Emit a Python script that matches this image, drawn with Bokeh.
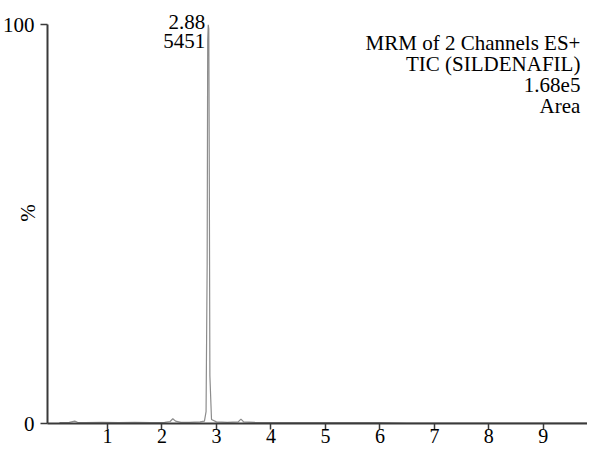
from bokeh.plotting import figure
from bokeh.models import ColumnDataSource, FixedTicker, Range1d
from bokeh.core.properties import value
from bokeh.embed import file_html
from bokeh.resources import INLINE

# retention time (min) and relative intensity (%)
times = [0.12, 0.30, 0.40, 0.45, 0.60, 0.90, 1.20, 1.50, 1.80, 2.05, 2.15, 2.20, 2.25, 2.35,
         2.50, 2.70, 2.78, 2.81, 2.83, 2.84, 2.85, 2.86, 2.87, 2.88, 2.91, 3.00, 3.20,
         3.40, 3.45, 3.50, 3.70, 4.00, 4.50, 5.00, 5.50, 6.00, 6.50, 7.00, 7.50, 8.00,
         8.50, 9.00, 9.50, 9.80]
intensity = [0.2, 0.3, 0.6, 0.3, 0.2, 0.3, 0.2, 0.3, 0.2, 0.3, 0.5, 1.2, 0.6, 0.3,
             0.3, 0.4, 0.6, 3.0, 40.0, 96.0, 100.0, 99.0, 60.0, 12.0, 1.0, 0.4, 0.3,
             0.4, 1.1, 0.4, 0.3, 0.2, 0.2, 0.2, 0.2, 0.2, 0.1, 0.1, 0.1, 0.1,
             0.1, 0.1, 0.1, 0.1]

peak_rt = [2.85]
peak_label_rt = ["2.88"]
peak_label_area = ["5451"]
peak_height = [100.0]

header_lines = ["MRM of 2 Channels ES+", "TIC (SILDENAFIL)", "1.68e5", "Area"]

x_ticks = [1, 2, 3, 4, 5, 6, 7, 8, 9]
y_ticks = [0, 100]

FONT = "Liberation Serif"
FS = "21px"

p = figure(width=587, height=445, output_backend="svg", toolbar_location=None,
           x_range=Range1d(-0.1, 9.81), y_range=Range1d(0, 105.58),
           min_border_left=47, min_border_right=0, min_border_top=2, min_border_bottom=20)
p.outline_line_color = None
p.grid.visible = False
p.background_fill_color = "white"
p.border_fill_color = "white"

src = ColumnDataSource(dict(t=times, i=intensity))
p.line("t", "i", source=src, line_color="#8c8c8c", line_width=1.2)

# peak annotation
p.text(x=peak_rt, y=[peak_height[0] + 0.8], text=peak_label_rt, text_align="right",
       text_baseline="alphabetic", text_font=value(FONT), text_font_size=FS,
       text_color="black", x_offset=-3)
p.text(x=peak_rt, y=[peak_height[0] - 4.0], text=peak_label_area, text_align="right",
       text_baseline="alphabetic", text_font=value(FONT), text_font_size=FS,
       text_color="black", x_offset=-3)

# header text
hy = [95.43, 90.1, 84.77, 79.69]
p.text(x=[9.68] * 4, y=hy, text=header_lines, text_align="right", text_baseline="alphabetic",
       text_font=value(FONT), text_font_size=FS, text_color="black")

for ax in (p.xaxis[0], p.yaxis[0]):
    ax.axis_line_color = "#3a3a3a"
    ax.axis_line_width = 2
    ax.major_tick_line_color = "#3a3a3a"
    ax.major_tick_line_width = 1.5
    ax.minor_tick_line_color = None
    ax.major_label_text_font = FONT
    ax.major_label_text_font_size = FS
    ax.major_label_text_color = "black"
    ax.axis_label_text_font = FONT
    ax.axis_label_text_font_style = "normal"
    ax.axis_label_text_font_size = FS
    ax.axis_label_text_color = "black"

p.xaxis.ticker = FixedTicker(ticks=x_ticks)
p.xaxis.major_tick_out = 6
p.xaxis.major_tick_in = 0
p.xaxis.major_label_text_font_size = "20px"
p.xaxis.major_label_standoff = -1

p.yaxis.ticker = FixedTicker(ticks=y_ticks)
p.yaxis.bounds = (0, 100)
p.yaxis.major_tick_out = 7
p.yaxis.major_tick_in = 0
p.yaxis.major_label_standoff = 6
p.yaxis.axis_label = "%"
p.yaxis.axis_label_standoff = -40

open("out.html", "w").write(file_html(p, INLINE))
